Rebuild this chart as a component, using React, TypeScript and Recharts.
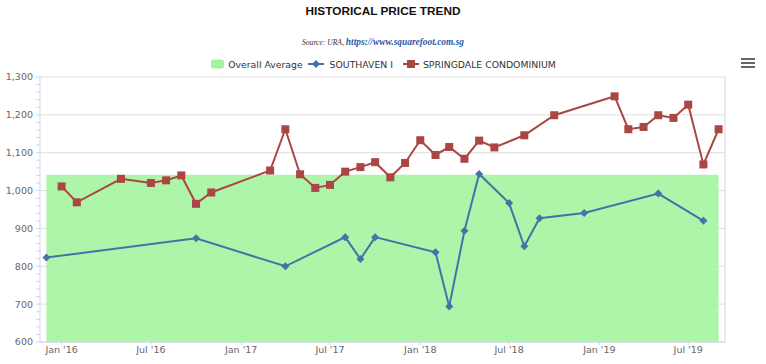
import { Area, CartesianGrid, ComposedChart, Line, XAxis, YAxis } from "recharts";

const MONTH_NAMES = ["Jan", "Feb", "Mar", "Apr", "May", "Jun", "Jul", "Aug", "Sep", "Oct", "Nov", "Dec"];

// SOUTHAVEN I, psf by transaction month
const SOUTHAVEN_MONTHS = [
  "2015-12", "2016-10", "2017-04", "2017-08", "2017-09", "2017-10", "2018-02", "2018-03",
  "2018-04", "2018-05", "2018-07", "2018-08", "2018-09", "2018-12", "2019-05", "2019-08",
];
const SOUTHAVEN_PSF = [823, 874, 800, 877, 819, 877, 837, 694, 894, 1044, 967, 853, 927, 941, 992, 920];

// SPRINGDALE CONDOMINIUM
const SPRINGDALE_MONTHS = [
  "2016-01", "2016-02", "2016-05", "2016-07", "2016-08", "2016-09", "2016-10", "2016-11",
  "2017-03", "2017-04", "2017-05", "2017-06", "2017-07", "2017-08", "2017-09", "2017-10",
  "2017-11", "2017-12", "2018-01", "2018-02", "2018-03", "2018-04", "2018-05", "2018-06",
  "2018-08", "2018-10", "2019-02", "2019-03", "2019-04", "2019-05", "2019-06", "2019-07",
  "2019-08", "2019-09",
];
const SPRINGDALE_PSF = [
  1011, 969, 1031, 1020, 1027, 1040, 965, 995,
  1053, 1162, 1043, 1007, 1015, 1050, 1062, 1075,
  1035, 1073, 1133, 1094, 1115, 1084, 1132, 1114,
  1146, 1199, 1249, 1162, 1168, 1199, 1192, 1227,
  1069, 1162,
];

// overall average band
const AVERAGE_MONTHS = ["2015-12", "2019-09"];
const AVERAGE_PSF = [1042, 1042];

const TICK_MONTHS = ["2016-01", "2016-07", "2017-01", "2017-07", "2018-01", "2018-07", "2019-01", "2019-07"];
const Y_MAJOR = [600, 700, 800, 900, 1000, 1100, 1200, 1300];
const Y_MINOR = Array.from({ length: 36 }, (_, i) => 600 + i * 20);

const X_MIN = Date.UTC(2015, 10, 18);
const X_MAX = Date.UTC(2019, 8, 14);

const BLUE = "#4572A7";
const RED = "#AA4643";
const GREEN = "#a4f49f";
const AXIS_FONT = "'DejaVu Sans', Verdana, sans-serif";

const toTime = (m: string) => {
  const [y, mo] = m.split("-").map(Number);
  return Date.UTC(y, mo - 1, 1);
};

const zip = (months: string[], values: number[]) => months.map((m, i) => ({ t: toTime(m), v: values[i] }));

const southaven = zip(SOUTHAVEN_MONTHS, SOUTHAVEN_PSF);
const springdale = zip(SPRINGDALE_MONTHS, SPRINGDALE_PSF);
const average = zip(AVERAGE_MONTHS, AVERAGE_PSF);
const ticks = TICK_MONTHS.map(toTime);

const fmtDate = (t: number) => {
  const d = new Date(t);
  return `${MONTH_NAMES[d.getUTCMonth()]} '${String(d.getUTCFullYear()).slice(2)}`;
};
const fmtPsf = (v: number) => (v % 100 === 0 ? v.toLocaleString("en-US") : "");

function SquareDot(props: any) {
  const { cx, cy, index } = props;
  if (cx == null || cy == null) return <g key={index} />;
  return <rect key={index} x={cx - 4} y={cy - 4} width={8} height={8} fill={RED} />;
}

function DiamondDot(props: any) {
  const { cx, cy, index } = props;
  if (cx == null || cy == null) return <g key={index} />;
  return <path key={index} d={`M${cx},${cy - 4}L${cx + 4},${cy}L${cx},${cy + 4}L${cx - 4},${cy}Z`} fill={BLUE} />;
}

const tickStyle = { fill: "#666", fontSize: 9.5, fontFamily: AXIS_FONT };

export default function App() {
  return (
    <div style={{ position: "absolute", left: 0, top: 0, width: 766, height: 364, background: "#fff" }}>
      <div
        style={{
          position: "absolute", top: 4, width: 766, textAlign: "center",
          fontFamily: "'Liberation Sans', Arial, sans-serif", fontWeight: "bold", fontSize: 11.8, color: "#111",
        }}
      >
        HISTORICAL PRICE TREND
      </div>
      <div
        style={{
          position: "absolute", top: 31, width: 766, textAlign: "center",
          fontFamily: "'Liberation Serif', 'Times New Roman', serif", fontStyle: "italic",
        }}
      >
        <span style={{ fontSize: 7.6, color: "#333" }}>Source: URA, </span>
        <span style={{ fontSize: 9.4, color: "#2a5aa8", fontWeight: "bold" }}>https://www.squarefoot.com.sg</span>
      </div>

      <div
        style={{
          position: "absolute", top: 58, width: 766, display: "flex", justifyContent: "center", alignItems: "center",
          fontFamily: AXIS_FONT, fontSize: 9.3, color: "#333", whiteSpace: "nowrap",
        }}
      >
        <svg width={15} height={12} style={{ marginRight: 3 }}>
          <rect x={1} y={1.5} width={13} height={9} rx={2} fill={GREEN} />
        </svg>
        <span style={{ marginRight: 5 }}>Overall Average</span>
        <svg width={16} height={12} style={{ marginRight: 6 }}>
          <line x1={0} y1={6} x2={16} y2={6} stroke={BLUE} strokeWidth={2} />
          <path d="M8,2L12,6L8,10L4,6Z" fill={BLUE} />
        </svg>
        <span style={{ marginRight: 10 }}>SOUTHAVEN I</span>
        <svg width={16} height={12} style={{ marginRight: 4 }}>
          <line x1={0} y1={6} x2={16} y2={6} stroke={RED} strokeWidth={2} />
          <rect x={4} y={2} width={8} height={8} fill={RED} />
        </svg>
        <span>SPRINGDALE CONDOMINIUM</span>
      </div>

      <svg width={16} height={12} style={{ position: "absolute", left: 740, top: 57 }}>
        <line x1={1} y1={2} x2={15} y2={2} stroke="#666" strokeWidth={2} />
        <line x1={1} y1={6} x2={15} y2={6} stroke="#666" strokeWidth={2} />
        <line x1={1} y1={10} x2={15} y2={10} stroke="#666" strokeWidth={2} />
      </svg>

      <div style={{ position: "absolute", left: 0, top: 0 }}>
        <ComposedChart width={766} height={364} margin={{ top: 77, right: 0, bottom: 0, left: 0 }}>
          <CartesianGrid yAxisId="left" vertical={false} horizontalValues={Y_MAJOR} stroke="#dedede" />
          <XAxis
            dataKey="t"
            type="number"
            domain={[X_MIN, X_MAX]}
            allowDataOverflow
            ticks={ticks}
            tickFormatter={fmtDate}
            height={22}
            tickSize={3}
            tickMargin={1}
            tick={tickStyle}
            stroke="#ccd6eb"
          />
          <YAxis
            yAxisId="left"
            domain={[600, 1300]}
            ticks={Y_MINOR}
            interval={0}
            tickFormatter={fmtPsf}
            width={40}
            tickSize={4}
            tickMargin={3}
            tick={tickStyle}
            stroke="#ccd6eb"
          />
          <YAxis
            yAxisId="right"
            orientation="right"
            domain={[600, 1300]}
            ticks={Y_MINOR}
            interval={0}
            tickFormatter={fmtPsf}
            width={41}
            tickSize={4}
            tickMargin={3}
            tick={tickStyle}
            stroke="#ccd6eb"
          />
          <Area
            yAxisId="left"
            data={average}
            dataKey="v"
            name="Overall Average"
            type="linear"
            fill={GREEN}
            fillOpacity={0.9}
            stroke="none"
            isAnimationActive={false}
          />
          <Line
            yAxisId="left"
            data={southaven}
            dataKey="v"
            name="SOUTHAVEN I"
            type="linear"
            stroke={BLUE}
            strokeWidth={2}
            dot={DiamondDot}
            activeDot={false}
            isAnimationActive={false}
          />
          <Line
            yAxisId="left"
            data={springdale}
            dataKey="v"
            name="SPRINGDALE CONDOMINIUM"
            type="linear"
            stroke={RED}
            strokeWidth={2}
            dot={SquareDot}
            activeDot={false}
            isAnimationActive={false}
          />
        </ComposedChart>
      </div>
    </div>
  );
}
